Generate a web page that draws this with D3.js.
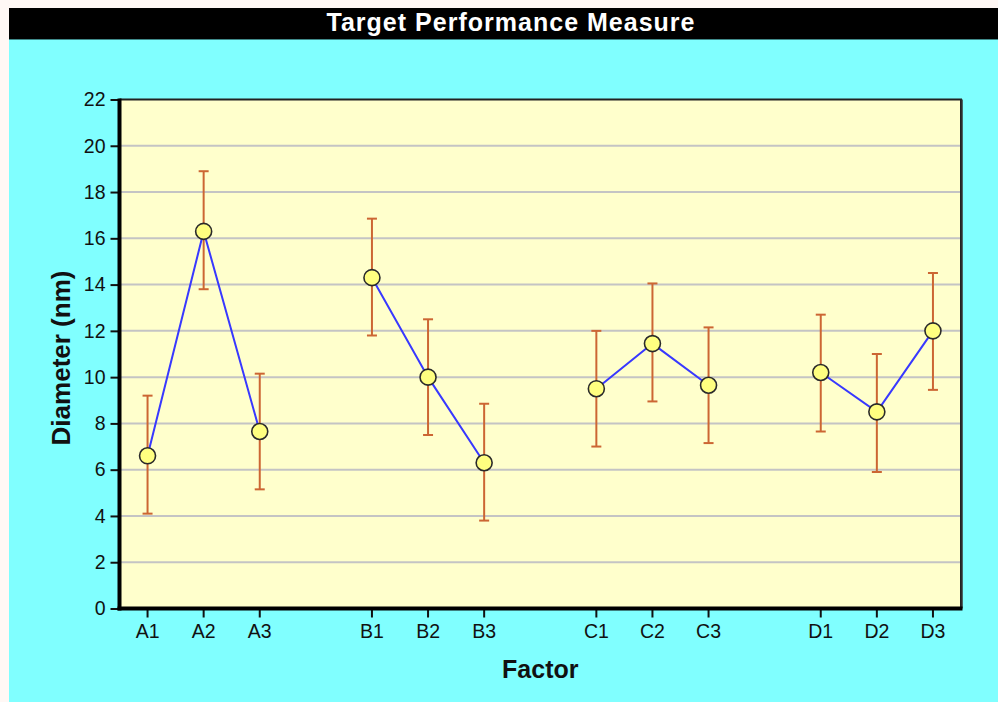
<!DOCTYPE html>
<html>
<head>
<meta charset="utf-8">
<script src="https://cdn.jsdelivr.net/npm/d3@7"></script>
<style>
  html, body { margin: 0; padding: 0; background: #fff8f5; }
  svg { display: block; }
  text { font-family: "Liberation Sans", Arial, sans-serif; }
</style>
</head>
<body>
<svg id="chart" width="998" height="702"></svg>
<script>
// Factor levels, grouped by factor
const groups = ["A", "B", "C", "D"];
const categories = ["A1", "A2", "A3", "B1", "B2", "B3", "C1", "C2", "C3", "D1", "D2", "D3"];
// Mean diameter (nm) for each level
const means = [6.6, 16.3, 7.65, 14.3, 10.0, 6.3, 9.5, 11.45, 9.65, 10.2, 8.5, 12.0];
// Error bar limits
const lower = [4.1, 13.8, 5.15, 11.8, 7.5, 3.8, 7.0, 8.95, 7.15, 7.65, 5.9, 9.45];
const upper = [9.2, 18.9, 10.15, 16.85, 12.5, 8.85, 12.0, 14.05, 12.15, 12.7, 11.0, 14.5];
const yTicks = [0, 2, 4, 6, 8, 10, 12, 14, 16, 18, 20, 22];

const W = 998, H = 702;
const svg = d3.select("#chart");

// panel background and title bar
svg.append("rect").attr("x", 9).attr("y", 40).attr("width", W - 9).attr("height", H - 40).attr("fill", "#80ffff");
svg.append("rect").attr("x", 9).attr("y", 8).attr("width", W - 9).attr("height", 31.5).attr("fill", "#000");
svg.append("line").attr("x1", 9).attr("x2", W).attr("y1", 39.5).attr("y2", 39.5)
  .attr("stroke", "#3f8a8a").attr("stroke-width", 1);
svg.append("text").attr("x", 510.5).attr("y", 31).attr("text-anchor", "middle")
  .attr("fill", "#fff").attr("font-weight", "bold").attr("font-size", 25)
  .attr("textLength", 368).attr("lengthAdjust", "spacing")
  .text("Target Performance Measure");

// slots: each group of levels followed by an empty slot
const slots = [];
groups.forEach((g, gi) => {
  categories.filter(c => c[0] === g).forEach(c => slots.push(c));
  if (gi < groups.length - 1) slots.push("gap" + gi);
});

const plotL = 119.5, plotR = 961, plotT = 99.5, plotB = 608.5;
const x = d3.scaleBand().domain(slots).range([plotL, plotR]).padding(0);
const cx = c => x(c) + x.bandwidth() / 2;
const y = d3.scaleLinear().domain([0, 22]).range([plotB, plotT]);

// plot background
svg.append("rect").attr("x", plotL).attr("y", plotT).attr("width", plotR - plotL).attr("height", plotB - plotT)
  .attr("fill", "#ffffcc");

// gridlines
svg.append("g").selectAll("line").data(yTicks.filter(t => t > 0 && t < 22)).join("line")
  .attr("x1", plotL).attr("x2", plotR).attr("y1", d => y(d)).attr("y2", d => y(d))
  .attr("stroke", "#c4c4c4").attr("stroke-width", 2);

// plot frame (top and right)
svg.append("path").attr("d", `M${plotL},${plotT}H${plotR}V${plotB}`)
  .attr("fill", "none").attr("stroke", "#222").attr("stroke-width", 2);
svg.append("line").attr("x1", plotR + 1).attr("x2", plotR + 1).attr("y1", plotT).attr("y2", plotB)
  .attr("stroke", "#333").attr("stroke-width", 1.5);

const data = categories.map((c, i) => ({ c, g: c[0], m: means[i], lo: lower[i], hi: upper[i] }));

// error bars
const eb = svg.append("g").attr("stroke", "#cc6633").attr("stroke-width", 2);
eb.selectAll("line.v").data(data).join("line").attr("class", "v")
  .attr("x1", d => cx(d.c)).attr("x2", d => cx(d.c)).attr("y1", d => y(d.lo)).attr("y2", d => y(d.hi));
eb.selectAll("line.t").data(data).join("line").attr("class", "t")
  .attr("x1", d => cx(d.c) - 5).attr("x2", d => cx(d.c) + 5).attr("y1", d => y(d.hi)).attr("y2", d => y(d.hi));
eb.selectAll("line.b").data(data).join("line").attr("class", "b")
  .attr("x1", d => cx(d.c) - 5).attr("x2", d => cx(d.c) + 5).attr("y1", d => y(d.lo)).attr("y2", d => y(d.lo));

// connecting lines within each factor
const line = d3.line().x(d => cx(d.c)).y(d => y(d.m));
svg.append("g").selectAll("path").data(groups.map(g => data.filter(d => d.g === g))).join("path")
  .attr("d", line).attr("fill", "none").attr("stroke", "#3838ff").attr("stroke-width", 2);

// markers
svg.append("g").selectAll("circle").data(data).join("circle")
  .attr("cx", d => cx(d.c)).attr("cy", d => y(d.m)).attr("r", 8)
  .attr("fill", "#ffff80").attr("stroke", "#2a2a2a").attr("stroke-width", 1.6);

// axes
const yAxis = svg.append("g").attr("transform", `translate(${plotL},0)`)
  .call(d3.axisLeft(y).tickValues(yTicks).tickSize(9).tickPadding(5).tickFormat(d3.format("d")));
const xAxis = svg.append("g").attr("transform", `translate(0,${plotB})`)
  .call(d3.axisBottom(x).tickValues(categories).tickSize(9).tickPadding(7));
[yAxis, xAxis].forEach(a => {
  a.select(".domain").remove();
  a.selectAll(".tick line").attr("stroke", "#111").attr("stroke-width", 2);
  a.selectAll(".tick text").attr("fill", "#111").attr("font-size", 19.5)
    .attr("font-family", "'Liberation Sans', Arial, sans-serif");
});
svg.append("line").attr("x1", plotL).attr("x2", plotL).attr("y1", plotT - 1).attr("y2", plotB + 2)
  .attr("stroke", "#000").attr("stroke-width", 4);
svg.append("line").attr("x1", plotL - 2).attr("x2", plotR + 1.5).attr("y1", plotB).attr("y2", plotB)
  .attr("stroke", "#000").attr("stroke-width", 4);

// axis titles
svg.append("text").attr("x", (plotL + plotR) / 2).attr("y", 678).attr("text-anchor", "middle")
  .attr("font-weight", "bold").attr("font-size", 25).attr("fill", "#111").text("Factor");
svg.append("text").attr("transform", `translate(70,${(plotT + plotB) / 2 + 4}) rotate(-90)`)
  .attr("text-anchor", "middle").attr("font-weight", "bold").attr("font-size", 26).attr("fill", "#111")
  .text("Diameter (nm)");
</script>
</body>
</html>
